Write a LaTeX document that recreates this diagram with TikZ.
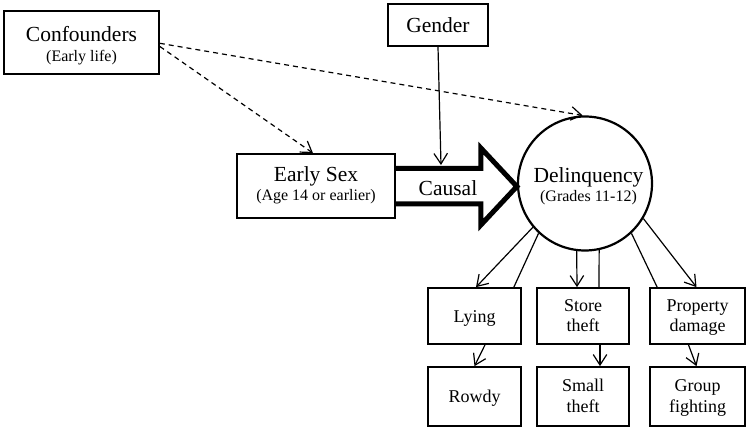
\documentclass[tikz,border=0pt]{standalone}
\usepackage{fontspec}
\setmainfont{Liberation Serif}
\usetikzlibrary{arrows.meta}
\begin{document}
\begin{tikzpicture}[x=1pt,y=-1pt,
  box/.style={draw, line width=1.7pt, rectangle, inner sep=0pt},
  big/.style={font=\fontsize{21.5}{24}\selectfont, inner sep=0pt},
  small/.style={font=\fontsize{16}{19}\selectfont, inner sep=0pt},
  btxt/.style={font=\fontsize{18}{20}\selectfont, inner sep=0pt},
  arrowline/.style={line width=1.2pt, -{Straight Barb[length=10.5pt,width=13.5pt]}},
  bareline/.style={line width=1.2pt},
  dashedarrow/.style={arrowline, dash pattern=on 5pt off 4pt},
  causalshape/.style={line width=5pt, miter limit=10}
]
\useasboundingbox[fill=white] (0,0) rectangle (750,430);

% Confounders
\node[box, minimum width=155pt, minimum height=63pt] (conf) at (81.5,42.5) {};
\node[big, anchor=base] (conft) at (81.5,42) {Confounders};
\node[small, anchor=base] (confs) at (81.5,61.5) {(Early life)};

% Gender
\node[box, big, minimum width=100pt, minimum height=42pt, text height=14.5pt, text depth=0pt] (gender) at (438,25) {Gender};

% Early Sex
\node[box, minimum width=158pt, minimum height=64pt] (early) at (316,186) {};
\node[big, anchor=base] (earlyt) at (316,182) {Early Sex};
\node[small, anchor=base] (earlys) at (316,200.5) {(Age 14 or earlier)};

% Delinquency
\node[circle, draw, line width=2.2pt, minimum size=134pt, inner sep=0pt] (delin) at (585,183.5) {};
\node[big, anchor=base] (delint) at (588.5,183) {Delinquency};
\node[small, anchor=base] (delins) at (588.5,201.5) {(Grades 11-12)};

% Causal arrow
\draw[causalshape] ([yshift=17.5pt]early.east) -- ++(85,0) -- ++(0,-20.5) -- ++(36,38.5) -- ++(-36,38.5) -- ++(0,-21) -- ++(-85,0);
\node[big, anchor=base] (causal) at (448,195.5) {Causal};

% Bottom boxes, row 1
\node[box, btxt, minimum width=93pt, minimum height=56pt, text height=12.3pt, text depth=0pt] (lying) at (474.5,316) {Lying};
\node[box, minimum width=92pt, minimum height=56pt] (store) at (583,316) {};
\node[btxt, anchor=base] (store1) at (583,311.7) {Store};
\node[btxt, anchor=base] (store2) at (583,331.7) {theft};
\node[box, minimum width=95pt, minimum height=56pt] (prop) at (697.5,316) {};
\node[btxt, anchor=base] (prop1) at (697.5,311.7) {Property};
\node[btxt, anchor=base] (prop2) at (697.5,331.7) {damage};

% Bottom boxes, row 2
\node[box, btxt, minimum width=93pt, minimum height=59pt, text height=12.3pt, text depth=0pt] (rowdy) at (474.5,396.5) {Rowdy};
\node[box, minimum width=92pt, minimum height=59pt] (small) at (583,396.5) {};
\node[btxt, anchor=base] (small1) at (583,391.7) {Small};
\node[btxt, anchor=base] (small2) at (583,412.7) {theft};
\node[box, minimum width=95pt, minimum height=59pt] (group) at (697.5,396.5) {};
\node[btxt, anchor=base] (group1) at (697.5,391.7) {Group};
\node[btxt, anchor=base] (group2) at (697.5,412.7) {fighting};

% Connectors
\draw[dashedarrow] ([yshift=-0.8pt]conf.east) -- (delin.92);
\draw[dashedarrow] ([yshift=-4pt]conf.east) -- ([xshift=-3pt]early.north);
\coordinate (gtip) at (441,165);
\draw[arrowline] (gender.south) -- (gtip);

\draw[arrowline] (delin.220) -- ([xshift=1.5pt]lying.north);
\draw[bareline] (delin.227) -- ([xshift=-8pt]lying.north east);
\draw[arrowline] (delin.263) -- ([xshift=-6pt]store.north);
\draw[bareline] (delin.282) -- ([xshift=16pt]store.north);
\draw[bareline] (delin.313) -- ([xshift=8pt]prop.north west);
\draw[arrowline] (delin.329) -- ([xshift=-1pt]prop.north);

\draw[arrowline] ([xshift=10.5pt]lying.south) -- (rowdy.north);
\draw[arrowline] ([xshift=17pt]store.south) -- ([xshift=17pt]small.north);
\draw[arrowline] ([xshift=-9pt]prop.south) -- ([xshift=-1pt]group.north);
\end{tikzpicture}
\end{document}
